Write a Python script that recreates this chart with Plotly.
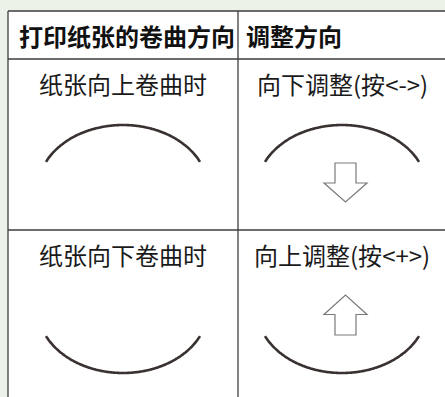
import numpy as np
import plotly.graph_objects as go

# ---- content ----
headers = ["打印纸张的卷曲方向", "调整方向"]
curl_labels = ["纸张向上卷曲时", "纸张向下卷曲时"]
adjust_labels = ["向下调整(按<->)", "向上调整(按<+>)"]
curl_dirs = [1, -1]      # 1 = curled up (arch), -1 = curled down (bowl)
arrow_dirs = [-1, 1]     # -1 = down arrow, 1 = up arrow

# ---- layout geometry (pixels) ----
W, H = 445, 397
X0, XM, X1 = 8, 238, 447
Y0, YH, YR = 11, 59, 230
ROW_TOP = [YH, YR]
C1 = (X0 + XM) / 2
C2 = (XM + X1) / 2

BG = "#edf2e9"
LINE = "#3d3d3d"
CURVE = "#3a3131"
ARROW = "#7a7a7a"
FONT = "Noto Sans CJK SC"

fig = go.Figure()

shapes = []
# table background
shapes.append(dict(type="rect", x0=X0, x1=X1, y0=Y0, y1=H + 5, fillcolor="white",
                   line=dict(width=0), layer="below"))
# grid lines
for (xa, ya, xb, yb) in [(X0, Y0, X1, Y0), (X0, YH, X1, YH), (X0, YR, X1, YR),
                         (X0, Y0, X0, H + 5), (XM, Y0, XM, H + 5), (X1, Y0, X1, H + 5)]:
    shapes.append(dict(type="line", x0=xa, y0=ya, x1=xb, y1=yb,
                       line=dict(color=LINE, width=1.3)))

# curves (elliptic arcs)
A, B = 85, 64
HALF = 77
for r, d in enumerate(curl_dirs):
    top = ROW_TOP[r]
    for cx in (C1, C2 - 0.5):
        t = np.linspace(-HALF, HALF, 121)
        if d == 1:
            apex = top + 66
            cy = apex + B
            y = cy - B * np.sqrt(1 - (t / A) ** 2)
        else:
            apex = top + 143
            cy = apex - B
            y = cy + B * np.sqrt(1 - (t / A) ** 2)
        fig.add_trace(go.Scatter(x=cx + t, y=y, mode="lines",
                                 line=dict(color=CURVE, width=2.6, shape="spline"),
                                 hoverinfo="skip", showlegend=False))

# arrows
SW, HW = 10.5, 21.5
ax = 345.5
for r, d in enumerate(arrow_dirs):
    top = ROW_TOP[r]
    if d == -1:
        ys, yb, yt = top + 104, top + 124, top + 143
    else:
        yt, yb, ys = top + 65, top + 84.5, top + 105
    path = (f"M{ax-SW},{ys} L{ax+SW},{ys} L{ax+SW},{yb} L{ax+HW},{yb} "
            f"L{ax},{yt} L{ax-HW},{yb} L{ax-SW},{yb} Z")
    shapes.append(dict(type="path", path=path, fillcolor="white",
                       line=dict(color=ARROW, width=1.2)))

annotations = []
# headers
annotations.append(dict(x=X0 + 9, y=(Y0 + YH) / 2, text="<b>" + headers[0] + "</b>",
                        xanchor="left", yanchor="middle", showarrow=False,
                        font=dict(family=FONT, size=24, color="#111111")))
annotations.append(dict(x=XM + 6, y=(Y0 + YH) / 2, text="<b>" + headers[1] + "</b>",
                        xanchor="left", yanchor="middle", showarrow=False,
                        font=dict(family=FONT, size=24, color="#111111")))
for r in range(2):
    yc = ROW_TOP[r] + 24
    annotations.append(dict(x=C1, y=yc, text=curl_labels[r], xanchor="center",
                            yanchor="middle", showarrow=False,
                            font=dict(family=FONT, size=24, color="#1a1a1a")))
    annotations.append(dict(x=C2 - 0.5, y=yc, text=adjust_labels[r], xanchor="center",
                            yanchor="middle", showarrow=False,
                            font=dict(family=FONT, size=24, color="#1a1a1a")))

fig.update_layout(
    width=W, height=H, margin=dict(l=0, r=0, t=0, b=0),
    paper_bgcolor=BG, plot_bgcolor=BG,
    xaxis=dict(range=[0, W], visible=False, fixedrange=True),
    yaxis=dict(range=[H, 0], visible=False, fixedrange=True),
    shapes=shapes, annotations=annotations, showlegend=False,
)

fig.write_html("out.html", config={"displayModeBar": False, "staticPlot": True},
               post_script="document.body.style.margin='0';document.body.style.overflow='hidden';")
